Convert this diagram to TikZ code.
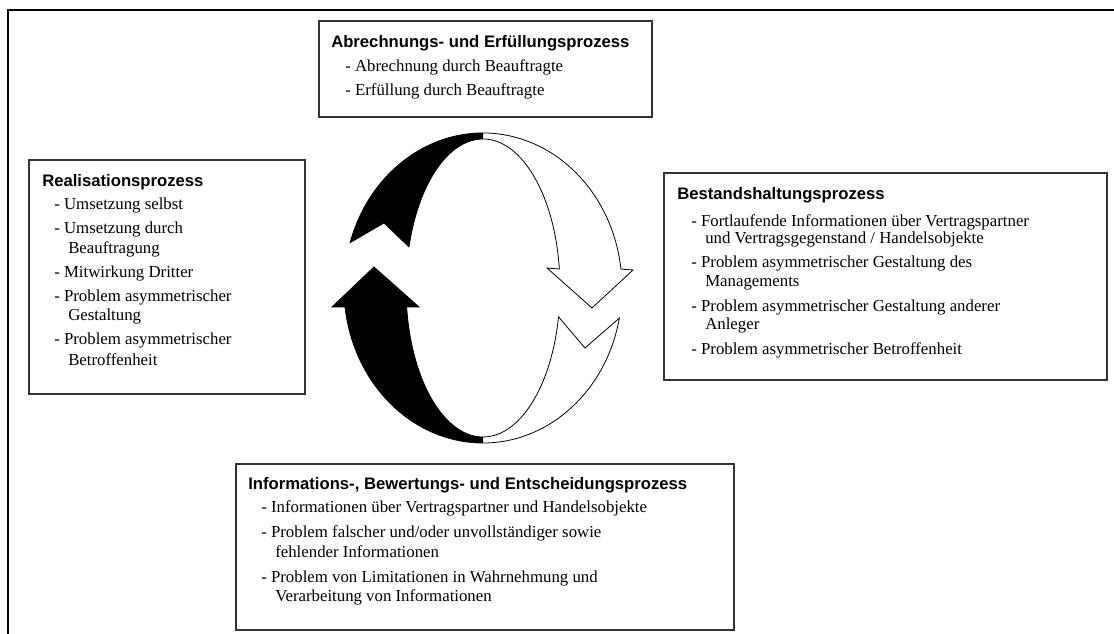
\documentclass[tikz,border=0pt]{standalone}
\usepackage{fontspec}
\setmainfont{Liberation Serif}
\setsansfont{Liberation Sans}
\usepackage{tikz}

% the two halves of the ring
\newcommand{\upperarrow}{([shift={(163:104.25pt and 116.25pt)}]ctr)
  arc[start angle=163, end angle=7, x radius=104.25pt, y radius=116.25pt]
  -- (633,364) -- (592,326) -- (547,366)
  -- ([shift={(7.3:57.75pt and 111.75pt)}]ctr)
  arc[start angle=7.3, end angle=164, x radius=57.75pt, y radius=111.75pt]
  -- (384,411) -- cycle}
\newcommand{\lowerarrow}{([shift={(-11.2:104.25pt and 116.25pt)}]ctr)
  arc[start angle=-11.2, end angle=-173, x radius=104.25pt, y radius=116.25pt]
  -- (332,327) -- (374,367) -- (419,327)
  -- ([shift={(-172.7:57.75pt and 111.75pt)}]ctr)
  arc[start angle=-172.7, end angle=-11.2, x radius=57.75pt, y radius=111.75pt]
  -- (585,286) -- cycle}

\tikzset{
  frameline/.style={line width=1.5pt},
  procbox/.style={draw=black!80, line width=0.8pt},
  head/.style={anchor=base west, inner sep=0pt, font=\fontsize{12.5}{15}\selectfont\sffamily\bfseries},
  item/.style={anchor=base west, inner sep=0pt, font=\fontsize{12.6}{15}\selectfont},
  ring/.style={draw=black, line width=0.6pt}
}

\begin{document}
\begin{tikzpicture}[x=0.75pt,y=0.75pt]
\useasboundingbox (0,0) rectangle (1114,634);
\draw[frameline] (8,0) -- (8,624) -- (1114,624);

% ring of arrows
\coordinate (ctr) at (483,346);
\fill[white] \upperarrow;
\fill[white] \lowerarrow;
\begin{scope}
\clip (0,0) rectangle (483,634);
\fill[black] \upperarrow;
\fill[black] \lowerarrow;
\end{scope}
\draw[ring] \upperarrow;
\draw[ring] \lowerarrow;

% Abrechnung
\draw[procbox] (319,613) rectangle (652,517);
\node[head] (abr-h) at (331,586) {Abrechnungs- und Erfüllungsprozess};
\node[item] (abr-1) at (345,562) {- Abrechnung durch Beauftragte};
\node[item] (abr-2) at (345,538) {- Erfüllung durch Beauftragte};

% Realisation
\draw[procbox] (29,474) rectangle (305,240);
\node[head] (real-h) at (42,447) {Realisationsprozess};
\node[item] (real-1) at (54,424) {- Umsetzung selbst};
\node[item] (real-2) at (54,400) {- Umsetzung durch};
\node[item] (real-2b) at (68,380) {Beauftragung};
\node[item] (real-3) at (54,356) {- Mitwirkung Dritter};
\node[item] (real-4) at (54,332) {- Problem asymmetrischer};
\node[item] (real-4b) at (68,313) {Gestaltung};
\node[item] (real-5) at (54,289) {- Problem asymmetrischer};
\node[item] (real-5b) at (68,268) {Betroffenheit};

% Bestandshaltung
\draw[procbox] (664,461) rectangle (1107,254);
\node[head] (best-h) at (677,434) {Bestandshaltungsprozess};
\node[item] (best-1) at (691,407) {- Fortlaufende Informationen über Vertragspartner};
\node[item] (best-1b) at (705,390) {und Vertragsgegenstand / Handelsobjekte};
\node[item] (best-2) at (691,366) {- Problem asymmetrischer Gestaltung des};
\node[item] (best-2b) at (705,347) {Managements};
\node[item] (best-3) at (691,322) {- Problem asymmetrischer Gestaltung anderer};
\node[item] (best-3b) at (705,304) {Anleger};
\node[item] (best-4) at (691,279) {- Problem asymmetrischer Betroffenheit};

% Information
\draw[procbox] (236,170) rectangle (734,4);
\node[head] (info-h) at (248,144) {Informations-, Bewertungs- und Entscheidungsprozess};
\node[item] (info-1) at (261,121) {- Informationen über Vertragspartner und Handelsobjekte};
\node[item] (info-2) at (261,96) {- Problem falscher und/oder unvollständiger sowie};
\node[item] (info-2b) at (275,76) {fehlender Informationen};
\node[item] (info-3) at (261,51) {- Problem von Limitationen in Wahrnehmung und};
\node[item] (info-3b) at (275,32) {Verarbeitung von Informationen};
\end{tikzpicture}
\end{document}
